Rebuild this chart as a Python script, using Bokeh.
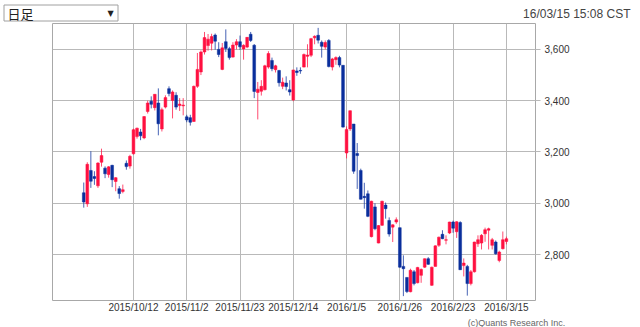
from bokeh.plotting import figure
from bokeh.models import Range1d, FixedTicker, NumeralTickFormatter, ColumnDataSource
from bokeh.core.properties import value
from bokeh.embed import file_html
from bokeh.resources import INLINE

# ---- data (Shanghai Composite daily candles) ----
dates = [
    "2015/9/15", "2015/9/16", "2015/9/17", "2015/9/18", "2015/9/21", "2015/9/22", "2015/9/23", "2015/9/24",
    "2015/9/25", "2015/9/28", "2015/9/29", "2015/9/30",
    "2015/10/8", "2015/10/9", "2015/10/12", "2015/10/13", "2015/10/14", "2015/10/15", "2015/10/16",
    "2015/10/19", "2015/10/20", "2015/10/21", "2015/10/22", "2015/10/23", "2015/10/26", "2015/10/27",
    "2015/10/28", "2015/10/29", "2015/10/30",
    "2015/11/2", "2015/11/3", "2015/11/4", "2015/11/5", "2015/11/6", "2015/11/9", "2015/11/10",
    "2015/11/11", "2015/11/12", "2015/11/13", "2015/11/16", "2015/11/17", "2015/11/18", "2015/11/19",
    "2015/11/20", "2015/11/23", "2015/11/24", "2015/11/25", "2015/11/26", "2015/11/27", "2015/11/30",
    "2015/12/1", "2015/12/2", "2015/12/3", "2015/12/4", "2015/12/7", "2015/12/8", "2015/12/9",
    "2015/12/10", "2015/12/11", "2015/12/14", "2015/12/15", "2015/12/16", "2015/12/17", "2015/12/18",
    "2015/12/21", "2015/12/22", "2015/12/23", "2015/12/24", "2015/12/25", "2015/12/28", "2015/12/29",
    "2015/12/30", "2015/12/31",
    "2016/1/4", "2016/1/5", "2016/1/6", "2016/1/7", "2016/1/8", "2016/1/11", "2016/1/12", "2016/1/13",
    "2016/1/14", "2016/1/15", "2016/1/18", "2016/1/19", "2016/1/20", "2016/1/21", "2016/1/22",
    "2016/1/25", "2016/1/26", "2016/1/27", "2016/1/28", "2016/1/29",
    "2016/2/1", "2016/2/2", "2016/2/3", "2016/2/4", "2016/2/5", "2016/2/15", "2016/2/16", "2016/2/17",
    "2016/2/18", "2016/2/19", "2016/2/22", "2016/2/23", "2016/2/24", "2016/2/25", "2016/2/26", "2016/2/29",
    "2016/3/1", "2016/3/2", "2016/3/3", "2016/3/4", "2016/3/7", "2016/3/8", "2016/3/9", "2016/3/10",
    "2016/3/11", "2016/3/14", "2016/3/15",
]
opens = [
    3041, 2998, 3128, 3104, 3068, 3160, 3137, 3112, 3148, 3085, 3057, 3046,
    3156, 3145, 3193, 3260, 3278, 3255, 3358, 3398, 3373, 3391, 3290, 3375, 3447, 3401, 3421, 3381, 3380,
    3337, 3334, 3319, 3456, 3512, 3590, 3615, 3624, 3656, 3600, 3522, 3630, 3603, 3570, 3617, 3630,
    3602, 3609, 3659, 3616, 3432,
    3437, 3443, 3531, 3557, 3521, 3518, 3456, 3469, 3443, 3403, 3516, 3518, 3531, 3573, 3577, 3645,
    3655, 3628, 3609, 3635, 3531, 3560, 3568,
    3538, 3196, 3290, 3309, 3194, 3128, 3027, 3037, 2870, 2986, 2845, 2914, 2993, 2933, 2907, 2927,
    2905, 2754, 2711, 2655,
    2733, 2690, 2719, 2751, 2784, 2680, 2754, 2836, 2879, 2856, 2884, 2927, 2889, 2925, 2757, 2754,
    2687, 2733, 2842, 2845, 2881, 2895, 2836, 2849, 2777, 2823, 2851,
]
highs = [
    3081, 3160, 3203, 3125, 3160, 3213, 3144, 3145, 3150, 3102, 3067, 3073,
    3167, 3189, 3291, 3295, 3290, 3340, 3400, 3417, 3425, 3448, 3373, 3421, 3456, 3440, 3433, 3410, 3410,
    3345, 3345, 3459, 3586, 3596, 3668, 3660, 3661, 3662, 3628, 3625, 3678, 3610, 3628, 3640, 3654,
    3620, 3648, 3668, 3621, 3473,
    3480, 3540, 3593, 3568, 3540, 3520, 3490, 3495, 3480, 3520, 3530, 3530, 3584, 3620, 3645, 3655,
    3684, 3635, 3635, 3640, 3567, 3573, 3575,
    3538, 3300, 3362, 3309, 3235, 3135, 3080, 3050, 3010, 3000, 2915, 3010, 3003, 2945, 2918, 2945,
    2905, 2797, 2711, 2745,
    2740, 2752, 2746, 2785, 2790, 2753, 2836, 2870, 2895, 2875, 2928, 2932, 2930, 2930, 2785, 2760,
    2740, 2850, 2875, 2880, 2905, 2905, 2865, 2855, 2815, 2890, 2870,
]
lows = [
    2983, 2986, 3060, 3072, 3060, 3143, 3098, 3100, 3063, 3047, 3018, 3039,
    3131, 3135, 3190, 3252, 3246, 3250, 3350, 3370, 3362, 3265, 3280, 3370, 3417, 3331, 3365, 3360, 3343,
    3316, 3303, 3318, 3450, 3500, 3580, 3595, 3596, 3599, 3570, 3519, 3590, 3560, 3568, 3600, 3598,
    3560, 3605, 3629, 3410, 3327,
    3420, 3440, 3525, 3515, 3510, 3455, 3445, 3440, 3420, 3398, 3497, 3505, 3530, 3530, 3570, 3620,
    3623, 3568, 3600, 3530, 3518, 3540, 3530,
    3295, 3175, 3282, 3115, 3056, 3015, 2979, 2946, 2867, 2895, 2844, 2912, 2940, 2870, 2849, 2920,
    2749, 2638, 2650, 2653,
    2680, 2688, 2690, 2748, 2760, 2678, 2754, 2830, 2860, 2840, 2880, 2885, 2865, 2740, 2715, 2640,
    2680, 2730, 2830, 2820, 2850, 2820, 2820, 2800, 2770, 2820, 2840,
]
closes = [
    3005, 3152, 3086, 3097, 3157, 3186, 3115, 3142, 3092, 3100, 3038, 3053,
    3143, 3183, 3287, 3293, 3263, 3338, 3391, 3386, 3425, 3310, 3365, 3412, 3428, 3434, 3375, 3387, 3383,
    3325, 3316, 3456, 3522, 3590, 3646, 3640, 3650, 3632, 3580, 3606, 3604, 3568, 3617, 3630, 3610,
    3616, 3647, 3635, 3436, 3445,
    3456, 3536, 3584, 3525, 3536, 3470, 3472, 3455, 3434, 3520, 3510, 3516, 3580, 3578, 3642, 3651,
    3636, 3612, 3627, 3533, 3563, 3568, 3539,
    3297, 3288, 3361, 3125, 3186, 3016, 3022, 2949, 3008, 2901, 2913, 3008, 2979, 2880, 2916, 2936,
    2751, 2745, 2656, 2739,
    2687, 2750, 2742, 2784, 2762, 2751, 2834, 2868, 2862, 2858, 2927, 2903, 2928, 2741, 2767, 2687,
    2733, 2849, 2858, 2875, 2897, 2901, 2858, 2803, 2810, 2858, 2862,
]
tick_labels = ["2015/10/12", "2015/11/2", "2015/11/23", "2015/12/14",
               "2016/1/5", "2016/1/26", "2016/2/23", "2016/3/15"]
y_ticks = [2800, 3000, 3200, 3400, 3600]
period_label = "日足"
timestamp = "16/03/15 15:08 CST"
credit = "(c)Quants Research Inc."

# ---- styling ----
UP = "#ff1040"
DOWN = "#0a2f9c"
GRID = "#b9b9b9"
W = 640
HEAD_H = 22
FOOT_H = 11
MAIN_H = 327 - HEAD_H - FOOT_H

n = len(dates)
idx = list(range(n))
colors = [UP if c >= o else DOWN for o, c in zip(opens, closes)]
src = ColumnDataSource(dict(
    x=idx, o=opens, h=highs, l=lows, c=closes,
    top=[max(o, c) for o, c in zip(opens, closes)],
    bot=[min(o, c) for o, c in zip(opens, closes)],
    color=colors,
))

# ---- header strip (period selector + timestamp) ----
head = figure(width=W, height=HEAD_H, x_range=Range1d(0, W), y_range=Range1d(HEAD_H, 0),
              x_axis_location=None, y_axis_location=None, toolbar_location=None,
              output_backend="svg", min_border=0, outline_line_color=None,
              background_fill_color="white", border_fill_color="white")
head.grid.visible = False
head.quad(left=[3.5], right=[117.5], top=[4.5], bottom=[20.5], fill_color="white",
          line_color="#a0a0a0", line_width=1)
head.text(x=[7], y=[13], text=[period_label], text_baseline="middle", text_align="left",
          text_font=value("Noto Sans CJK JP"), text_font_size="13px", text_color="#222222")
head.text(x=[110], y=[12.5], text=["▼"], text_baseline="middle", text_align="center",
          text_font=value("DejaVu Sans"), text_font_size="8px", text_color="#222222")
head.text(x=[630], y=[13], text=[timestamp], text_baseline="middle", text_align="right",
          text_font=value("Liberation Sans"), text_font_size="12px", text_color="#444444")

# ---- main candlestick chart ----
X0, X1 = -8.8, 127.2
Y0, Y1 = 2621, 3701
p = figure(width=W, height=MAIN_H, x_range=Range1d(X0, X1), y_range=Range1d(Y0, Y1),
           y_axis_location="right", toolbar_location=None, output_backend="svg",
           min_border_left=52, min_border_right=105, min_border_top=1, min_border_bottom=16,
           background_fill_color="white", border_fill_color="white")
p.outline_line_color = "#a8a8a8"
p.outline_line_width = 1

p.segment(x0="x", x1="x", y0="l", y1="h", color="color", line_width=1, line_alpha=0.75, source=src)
p.vbar(x="x", width=0.78, top="top", bottom="bot", fill_color="color", line_color="color",
       line_width=0.5, source=src)

tick_pos = [dates.index(d) for d in tick_labels]
xa = p.xaxis[0]
xa.ticker = FixedTicker(ticks=tick_pos)
xa.major_label_overrides = {tp: lab for tp, lab in zip(tick_pos, tick_labels)}
xa.major_tick_out = 0
xa.major_tick_in = 0
xa.minor_tick_out = 0
xa.minor_tick_in = 0
xa.axis_line_color = None
xa.major_label_standoff = 1
xa.major_label_text_font = "Liberation Sans"
xa.major_label_text_font_size = "10px"
xa.major_label_text_color = "#333333"

ya = p.yaxis[0]
ya.ticker = FixedTicker(ticks=y_ticks)
ya.formatter = NumeralTickFormatter(format="0,0")
ya.major_tick_out = 5
ya.major_tick_in = 0
ya.minor_tick_out = 0
ya.minor_tick_in = 0
ya.major_tick_line_color = GRID
ya.axis_line_color = None
ya.major_label_standoff = 4
ya.major_label_text_font = "Liberation Sans"
ya.major_label_text_font_size = "10px"
ya.major_label_text_color = "#333333"

p.xgrid.ticker = FixedTicker(ticks=tick_pos)
p.ygrid.ticker = FixedTicker(ticks=y_ticks)
for g in (p.xgrid[0], p.ygrid[0]):
    g.grid_line_color = GRID
    g.grid_line_width = 1

# ---- footer strip (credit) ----
foot = figure(width=W, height=FOOT_H, x_range=Range1d(0, W), y_range=Range1d(FOOT_H, 0),
              x_axis_location=None, y_axis_location=None, toolbar_location=None,
              output_backend="svg", min_border=0, outline_line_color=None,
              background_fill_color="white", border_fill_color="white")
foot.grid.visible = False
foot.text(x=[516], y=[5], text=[credit], text_baseline="middle", text_align="center",
          text_font=value("Liberation Sans"), text_font_size="9px", text_color="#666666")

open("out.html", "w").write(file_html([head, p, foot], INLINE))
